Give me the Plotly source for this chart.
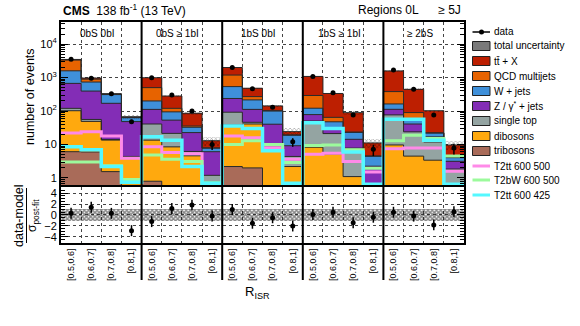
import plotly.graph_objects as go
import numpy as np

# ---------------- data ----------------
bin_labels = ["[0.5,0.6]", "[0.6,0.7]", "[0.7,0.8]", "[0.8,1]"] * 5
regions = ["0bS 0bI", "0bS \u2265 1bI", "1bS 0bI", "1bS \u2265 1bI", "\u2265 2bS"]

ttbar = [150, 70, 10, 2, 490, 160, 50, 5.1, 810, 210, 40, 5, 790, 270, 66, 6.6, 1200, 355, 80, 5.5]
qcd = [1740, 160, 10, 2, 300, 26, 3, 0.1, 650, 55, 2, 0.3, 170, 17, 0.5, 0.1, 218, 32, 0.5, 0.1]
wjets = [920, 340, 140, 15, 88, 41, 10, 1.7, 300, 103, 60, 9.8, 43, 16, 8.7, 2.2, 50, 17, 5, 0.9]
zjets = [550, 339, 156, 44, 71, 32, 16.5, 4.9, 145, 66, 31, 4.8, 28, 10.5, 6.5, 1.6, 36, 17, 5, 1.3]
singletop = [18, 7, 0.6, 0.3, 27.5, 13, 1.6, 0.45, 54, 5, 1, 2.2, 42, 16, 6.7, 0.3, 67, 19.4, 8.5, 1.5]
dibosons = [96, 43, 12, 3.5, 12.7, 8.1, 4.4, 0.6, 36, 39, 8, 2.0, 8, 5, 1.0, 0.3, 9.4, 4.3, 3.3, 0.3]
tribosons = [6.1, 6, 1.55, 0.6, 0.8, 0.4, 0.2, 0.15, 2.2, 2.0, 0.4, 0.2, 0.3, 0.2, 0.1, 0.05, 0.3, 0.2, 0.1, 0.05]

data = [3500, 960, 330, 48, 990, 300, 100, 10, 2000, 460, 130, 12, 1080, 350, 76, 7.2, 1670, 450, 76, 7.8]
unc_frac = [0.05, 0.05, 0.06, 0.15, 0.05, 0.06, 0.10, 0.30, 0.05, 0.05, 0.07, 0.25,
            0.05, 0.06, 0.12, 0.30, 0.05, 0.06, 0.08, 0.30]

t2tt_600_500 = [22, 24, 18, 3.9, 8.5, 5.8, 5.3, 0.5, 18, 16, 8, 3.6, 5.1, 5.5, 3.1, 1.5, 7.5, 7.8, 7.8, 1.6]
t2bw_600_500 = [3.0, 3.0, 2.3, 0.9, 4.9, 3.6, 3.1, 0.72, 10, 13, 10, 2.9, 9.4, 9.7, 7, 1.95, 13, 19, 15, 4.5]
t2tt_600_425 = [8.5, 7, 2.2, 0.75, 17, 13.5, 2.2, 0.7, 36, 30, 6.5, 0.7, 45, 30, 6, 0.65, 57, 57, 13.5, 0.65]

pull = [0.3, 1.4, 0.3, -2.85, -1.2, 1.2, 1.8, -0.2, 1.0, -1.5, -0.5, -2.0,
        0.1, 0.5, -1.4, -0.4, 0.5, -0.2, -1.8, 0.6]
pull_err = [1.0] * 20
ratio_band = [1.05] * 20

# ---------------- style ----------------
FONT = "Liberation Sans, Arial, sans-serif"
bkg = [  # bottom -> top
    ("tribosons", tribosons, "#a96b59"),
    ("dibosons", dibosons, "#ffa90e"),
    ("single top", singletop, "#94a4a2"),
    ("Z / \u03b3<sup>*</sup> + jets", zjets, "#832db6"),
    ("W + jets", wjets, "#3f90da"),
    ("QCD multijets", qcd, "#e76300"),
    ("tt\u0304 + X", ttbar, "#bd1f01"),
]
signals = [
    ("T2tt 600 500", t2tt_600_500, "#ff8ae8", 3),
    ("T2bW 600 500", t2bw_600_500, "#9cfa9c", 3),
    ("T2tt 600 425", t2tt_600_425, "#55f8ff", 3.5),
]

W, H = 580, 326
L, R, T, B = 61, 116, 22, 83
PW, PH = W - L - R, H - T - B
FLOOR = 0.01
NBINS = len(data)


def px2x(px):
    return (px - L) / PW


def px2y(py):
    return (H - B - py) / PH


centers = [i + 0.5 for i in range(NBINS)]
edges = list(range(NBINS + 1))

fig = go.Figure()

cums = []
run = np.zeros(NBINS)
for name, vals, col in bkg:
    run = run + np.array(vals, dtype=float)
    cums.append(run.copy())
total = cums[-1]

for (name, vals, col), cum in reversed(list(zip(bkg, cums))):
    fig.add_trace(go.Bar(x=centers, y=cum - FLOOR, base=[FLOOR] * NBINS, width=1,
                         marker=dict(color=col, line=dict(width=0)),
                         showlegend=False, xaxis="x", yaxis="y", hoverinfo="skip"))
for cum in cums:
    fig.add_trace(go.Scatter(x=edges, y=list(cum) + [cum[-1]], mode="lines",
                             line=dict(color="#2a2a2a", width=1, shape="hv"),
                             showlegend=False, xaxis="x", yaxis="y", hoverinfo="skip"))

unc = total * np.array(unc_frac)
fig.add_trace(go.Bar(x=centers, y=2 * unc, base=total - unc, width=1,
                     marker=dict(color="rgba(0,0,0,0)", line=dict(width=0),
                                 pattern=dict(shape="x", fgcolor="black", size=3, solidity=0.3, fillmode="overlay")),
                     showlegend=False, xaxis="x", yaxis="y", hoverinfo="skip"))

for name, vals, col, lw in signals:
    fig.add_trace(go.Scatter(x=edges, y=list(vals) + [vals[-1]], mode="lines",
                             line=dict(color=col, width=lw, shape="hv"),
                             showlegend=False, xaxis="x", yaxis="y", hoverinfo="skip"))

fig.add_trace(go.Scatter(x=centers, y=data, mode="markers", marker=dict(color="black", size=5),
                         error_y=dict(type="data", array=list(np.sqrt(data)), color="black", thickness=1.5, width=0),
                         showlegend=False, xaxis="x", yaxis="y"))

fig.add_trace(go.Bar(x=centers, y=[2 * b for b in ratio_band], base=[-b for b in ratio_band], width=1,
                     marker=dict(color="rgba(255,255,255,0)", line=dict(width=0),
                                 pattern=dict(shape="x", fgcolor="#111", size=3, solidity=0.75, fillmode="overlay")),
                     showlegend=False, xaxis="x2", yaxis="y2", hoverinfo="skip"))
fig.add_trace(go.Scatter(x=centers, y=pull, mode="markers", marker=dict(color="black", size=5),
                         error_y=dict(type="data", array=pull_err, color="black", thickness=1.5, width=0),
                         showlegend=False, xaxis="x2", yaxis="y2"))

grid = dict(showgrid=True, gridcolor="#444", griddash="dot", gridwidth=1)
log_minor = [m * 10 ** e for e in range(-1, 5) for m in range(2, 10)]

fig.update_layout(
    width=W, height=H, margin=dict(l=L, r=R, t=T, b=B),
    paper_bgcolor="white", plot_bgcolor="white", barmode="overlay", bargap=0,
    font=dict(family=FONT, color="black", size=11),
    showlegend=False,
    xaxis=dict(domain=[0, 1], range=[0, NBINS], anchor="y", showticklabels=False, ticks="",
               showline=True, linewidth=2, linecolor="black", mirror=True, showgrid=False, zeroline=False,
               tickvals=centers,
               minor=dict(tickvals=list(range(1, NBINS)), ticks="", **grid)),
    yaxis=dict(domain=[0.2624, 1], type="log", range=[-0.21, 4.66], anchor="x",
               tickvals=[1, 10, 100, 1000, 10000],
               ticktext=["1", "10", "10<sup>2</sup>", "10<sup>3</sup>", "10<sup>4</sup>"],
               ticks="inside", ticklen=7, tickwidth=1, tickcolor="black",
               showline=True, linewidth=2, linecolor="black", mirror="ticks", zeroline=False,
               tickfont=dict(size=11), **grid,
               minor=dict(tickvals=log_minor, ticks="inside", ticklen=4, tickcolor="black", showgrid=False)),
    xaxis2=dict(domain=[0, 1], range=[0, NBINS], anchor="y2", tickvals=centers, ticktext=bin_labels,
                tickangle=-90, tickfont=dict(size=9), ticks="",
                showline=True, linewidth=2, linecolor="black", mirror=True, showgrid=False, zeroline=False,
                minor=dict(tickvals=list(range(1, NBINS)), ticks="", **grid)),
    yaxis2=dict(domain=[0, 0.2534], range=[-5.1, 5.1], anchor="x2",
                tickvals=[-4, -2, 0, 2, 4], ticktext=["\u22124", "\u22122", "0", "2", "4"],
                ticks="inside", ticklen=7, tickcolor="black", tickfont=dict(size=11),
                showline=True, linewidth=2, linecolor="black", mirror="ticks", zeroline=False, **grid,
                minor=dict(dtick=0.5, tick0=0, ticks="inside", ticklen=4, tickcolor="black", showgrid=False)),
)

shapes = []
ann = []
# region separators (paper coordinates: x range [0, NBINS] spans the full domain)
for k in range(1, 5):
    xs = 4 * k / NBINS
    shapes.append(dict(type="line", xref="paper", yref="paper", x0=xs, x1=xs, y0=px2y(280), y1=1,
                       line=dict(color="black", width=2)))
# region labels
for k, lab in enumerate(regions):
    ann.append(dict(xref="paper", yref="paper", x=(4 * k + 1.8) / NBINS, y=px2y(33), text=lab, showarrow=False,
                    font=dict(size=10), xanchor="center", yanchor="middle"))

# header
ann.append(dict(xref="paper", yref="paper", x=px2x(61), y=px2y(10), xanchor="left", yanchor="middle",
                text="<b>CMS</b>  138 fb<sup>-1</sup> (13 TeV)", showarrow=False, font=dict(size=12)))
ann.append(dict(xref="paper", yref="paper", x=px2x(463), y=px2y(10), xanchor="right", yanchor="middle",
                text="Regions 0L      \u2265 5J", showarrow=False, font=dict(size=12)))

# axis titles
ann.append(dict(xref="paper", yref="paper", x=px2x(30), y=px2y(97), text="number of events", textangle=-90,
                showarrow=False, font=dict(size=12.5), xanchor="center", yanchor="middle"))
ann.append(dict(xref="paper", yref="paper", x=px2x(19), y=px2y(216), text="data-model", textangle=-90,
                showarrow=False, font=dict(size=12.5), xanchor="center", yanchor="middle"))
shapes.append(dict(type="line", xref="paper", yref="paper", x0=px2x(26.5), x1=px2x(26.5), y0=px2y(243), y1=px2y(188),
                   line=dict(color="black", width=1)))
ann.append(dict(xref="paper", yref="paper", x=px2x(33), y=px2y(216), text="\u03c3<sub>post-fit</sub>", textangle=-90,
                showarrow=False, font=dict(size=12), xanchor="center", yanchor="middle"))
ann.append(dict(xref="paper", yref="paper", x=px2x(257), y=px2y(292), text="R<sub>ISR</sub>",
                showarrow=False, font=dict(size=13), xanchor="center", yanchor="middle"))

# legend
lx0, lx1, tx = 472.5, 490, 492
leg_y = [32, 46, 61, 76, 91, 106, 121, 136, 151, 166, 180, 195]
leg_txt = ["data", "total uncertainty"] + [b[0] for b in reversed(bkg)] + [s[0] for s in signals]
for yy, t in zip(leg_y, leg_txt):
    ann.append(dict(xref="paper", yref="paper", x=px2x(tx), y=px2y(yy), text=t, showarrow=False,
                    xanchor="left", yanchor="middle", font=dict(size=10)))
shapes.append(dict(type="line", xref="paper", yref="paper", x0=px2x(lx0), x1=px2x(lx1), y0=px2y(32), y1=px2y(32),
                   line=dict(color="black", width=1.5)))
shapes.append(dict(type="circle", xref="paper", yref="paper", x0=px2x(479), x1=px2x(484), y0=px2y(34.5), y1=px2y(29.5),
                   fillcolor="black", line=dict(color="black", width=0)))
shapes.append(dict(type="rect", xref="paper", yref="paper", x0=px2x(lx0), x1=px2x(lx1), y0=px2y(50.5), y1=px2y(41.5),
                   fillcolor="#7a7a7a", line=dict(color="#222", width=1)))
for (name, vals, col), yy in zip(reversed(bkg), leg_y[2:9]):
    shapes.append(dict(type="rect", xref="paper", yref="paper", x0=px2x(lx0), x1=px2x(lx1),
                       y0=px2y(yy + 4.5), y1=px2y(yy - 4.5),
                       fillcolor=col, line=dict(color="#222", width=1)))
for (name, vals, col, lw), yy in zip(signals, leg_y[9:]):
    shapes.append(dict(type="line", xref="paper", yref="paper", x0=px2x(lx0), x1=px2x(lx1), y0=px2y(yy), y1=px2y(yy),
                       line=dict(color=col, width=3)))

fig.update_layout(shapes=shapes, annotations=ann)
fig.write_html("out.html")
